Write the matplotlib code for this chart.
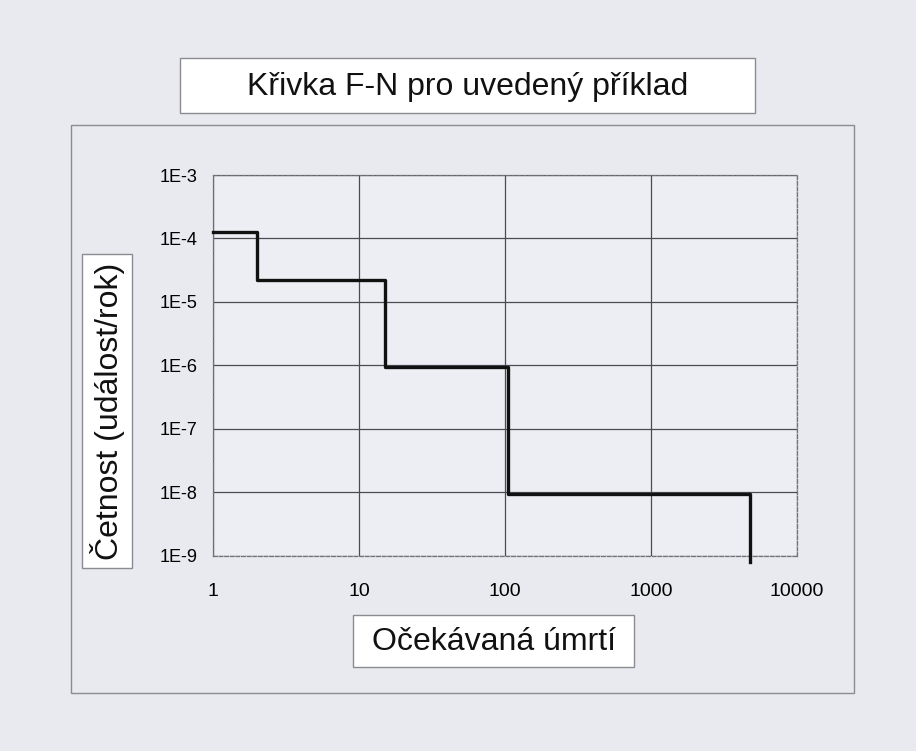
import matplotlib.pyplot as plt
from matplotlib.patches import Rectangle

plt.rcParams['font.family'] = ['Liberation Sans', 'DejaVu Sans']

# F-N curve data (expected fatalities vs. frequency per year)
deaths = [1, 2, 15, 105, 4800]
freq = [1.25e-4, 2.2e-5, 9.5e-7, 9.5e-9, 8e-10]

x_ticks = [1, 10, 100, 1000, 10000]
x_labels = ['1', '10', '100', '1000', '10000']
y_ticks = [1e-9, 1e-8, 1e-7, 1e-6, 1e-5, 1e-4, 1e-3]
y_labels = ['1E-9', '1E-8', '1E-7', '1E-6', '1E-5', '1E-4', '1E-3']

title = 'Křivka F-N pro uvedený příklad'
ylabel = 'Četnost (událost/rok)'
xlabel = 'Očekávaná úmrtí'

bg = '#e8eaef'
W, H = 916, 751
fig = plt.figure(figsize=(W / 100, H / 100), dpi=100, facecolor=bg)


def fx(px):
    return px / W


def fy(py):
    return 1 - py / H


# outer chart-area frame
fig.add_artist(Rectangle((fx(71), fy(693)), fx(854) - fx(71), fy(125) - fy(693),
                         transform=fig.transFigure, fill=False,
                         edgecolor='#8a8c92', lw=1.0))

ax = fig.add_axes([fx(213), fy(555.6), fx(797) - fx(213), fy(175) - fy(555.6)])
ax.set_facecolor('#eceef3')
ax.set_xscale('log')
ax.set_yscale('log')
ax.set_xlim(1, 10000)
ax.set_ylim(1e-9, 1e-3)

ax.step(deaths, freq, where='post', color='#111111', lw=2.4, clip_on=False, zorder=3)

ax.set_xticks(x_ticks)
ax.set_xticklabels(x_labels, fontsize=14)
ax.set_yticks(y_ticks)
ax.set_yticklabels(y_labels, fontsize=13)
ax.minorticks_off()
ax.tick_params(axis='both', length=0)
ax.tick_params(axis='x', pad=20)
ax.tick_params(axis='y', pad=11)
ax.grid(True, which='major', color='#4a4c52', lw=0.9)
for s in ax.spines.values():
    s.set_color('#707278')
    s.set_linewidth(0.9)
    s.set_linestyle((0, (3, 1.5)))

# title box
fig.add_artist(Rectangle((fx(180), fy(112.5)), fx(755) - fx(180), fy(57.5) - fy(112.5),
                         transform=fig.transFigure, facecolor='white',
                         edgecolor='#8a8c92', lw=1.0))
fig.text(fx(467.5), fy(87), title, fontsize=23, ha='center', va='center', color='#111111')

# y-label box
fig.add_artist(Rectangle((fx(82), fy(568)), fx(132) - fx(82), fy(254) - fy(568),
                         transform=fig.transFigure, facecolor='white',
                         edgecolor='#8a8c92', lw=1.0))
fig.text(fx(108), fy(411), ylabel, fontsize=23, rotation=90,
         ha='center', va='center', color='#111111')

# x-label box
fig.add_artist(Rectangle((fx(353), fy(667)), fx(634) - fx(353), fy(615) - fy(667),
                         transform=fig.transFigure, facecolor='white',
                         edgecolor='#8a8c92', lw=1.0))
fig.text(fx(493.5), fy(642), xlabel, fontsize=23, ha='center', va='center', color='#111111')

fig.savefig('out.png', dpi=100, facecolor=bg)
